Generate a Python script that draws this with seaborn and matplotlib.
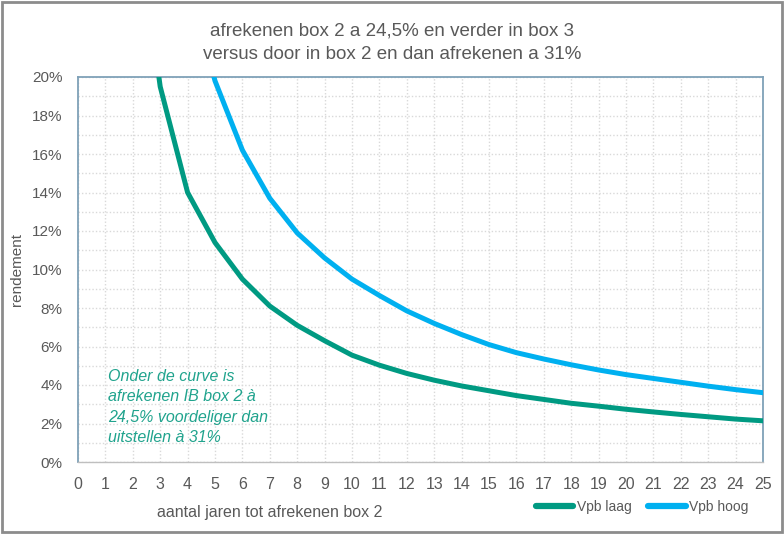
import numpy as np
import pandas as pd
import matplotlib
matplotlib.use('Agg')
import matplotlib.pyplot as plt
import seaborn as sns
from matplotlib.ticker import MultipleLocator, PercentFormatter

# Waarden (rendement in %)
jaren_laag = list(range(2, 26))
vpb_laag = [30.0, 19.5, 14.0, 11.4, 9.5, 8.1, 7.1, 6.3, 5.55, 5.03, 4.6, 4.25,
            3.95, 3.7, 3.45, 3.25, 3.05, 2.9, 2.74, 2.6, 2.47, 2.35, 2.23, 2.14]
jaren_hoog = list(range(4, 26))
vpb_hoog = [25.2, 19.8, 16.2, 13.7, 11.9, 10.6, 9.5, 8.65, 7.85, 7.2, 6.62, 6.1,
            5.68, 5.35, 5.05, 4.78, 4.54, 4.34, 4.14, 3.94, 3.76, 3.6]
reeksen = ['Vpb laag', 'Vpb hoog']
kleuren = {'Vpb laag': '#009A82', 'Vpb hoog': '#00B0F0'}

titel = ('afrekenen box 2 a 24,5% en verder in box 3\n'
         'versus door in box 2 en dan afrekenen a 31%')
notitie = ('Onder de curve is\nafrekenen IB box 2 à\n'
           '24,5% voordeliger dan\nuitstellen à 31%')

df = pd.concat([
    pd.DataFrame({'jaar': jaren_laag, 'rendement': vpb_laag, 'serie': 'Vpb laag'}),
    pd.DataFrame({'jaar': jaren_hoog, 'rendement': vpb_hoog, 'serie': 'Vpb hoog'}),
])

sns.set_style('white')
plt.rcParams['font.family'] = ['Liberation Sans', 'DejaVu Sans']
grijs = '#595959'

fig = plt.figure(figsize=(7.84, 5.34), dpi=100)
ax = fig.add_axes([78 / 784, 1 - 462 / 534, (763 - 78) / 784, (462 - 77) / 534])

sns.lineplot(data=df, x='jaar', y='rendement', hue='serie', hue_order=reeksen,
             palette=kleuren, linewidth=3.6, legend=False, ax=ax,
             solid_joinstyle='round', zorder=3)

ax.set_xlim(0, 25)
ax.set_ylim(0, 20)
ax.xaxis.set_major_locator(MultipleLocator(1))
ax.yaxis.set_major_locator(MultipleLocator(2))
ax.yaxis.set_minor_locator(MultipleLocator(1))
ax.yaxis.set_major_formatter(PercentFormatter(decimals=0))

ax.grid(True, which='both', axis='y', color='#D9D9D9', linestyle=(0, (1, 1.5)), linewidth=1)
ax.grid(True, which='major', axis='x', color='#D9D9D9', linestyle=(0, (1, 1.5)), linewidth=1)
ax.set_axisbelow(True)

for s in ['left', 'top', 'right']:
    ax.spines[s].set_color('#7FA1B8')
    ax.spines[s].set_linewidth(1.3)
ax.spines['bottom'].set_color('#BFBFBF')
ax.spines['bottom'].set_linewidth(1)

ax.tick_params(axis='x', direction='out', length=5, width=1, color='#BFBFBF',
               labelsize=11.5, labelcolor=grijs, pad=6)
ax.tick_params(axis='y', which='both', length=0, labelsize=11, labelcolor=grijs, pad=11)

ax.set_xlabel('')
ax.set_ylabel('rendement', fontsize=11, color=grijs)
ax.yaxis.set_label_coords(-0.079, 0.5)

fig.text(270 / 784, 1 - 513 / 534, 'aantal jaren tot afrekenen box 2',
         ha='center', va='center', fontsize=11.5, color=grijs)
fig.text(392 / 784, 1 - 43 / 534, titel, ha='center', va='center',
         fontsize=13.5, color=grijs, linespacing=1.5)

ax.text(108 / 784, 1 - 407 / 534, notitie, transform=fig.transFigure,
        ha='left', va='center', fontsize=11.5, style='italic', color='#20A38D',
        linespacing=1.42)

handles = [plt.Line2D([], [], color=kleuren[r], linewidth=4.5, solid_capstyle='round')
           for r in reeksen]
fig.legend(handles, reeksen, loc='center', bbox_to_anchor=(642 / 784, 1 - 507 / 534),
           ncol=2, frameon=False, handlelength=2.7, handletextpad=0.25,
           columnspacing=1.2, fontsize=10, labelcolor=grijs)

fig.patches.append(plt.Rectangle((0.002, 0.003), 0.995, 0.994, transform=fig.transFigure,
                                 fill=False, edgecolor='#8C8C8C', linewidth=2))

fig.savefig('out.png', dpi=100)
